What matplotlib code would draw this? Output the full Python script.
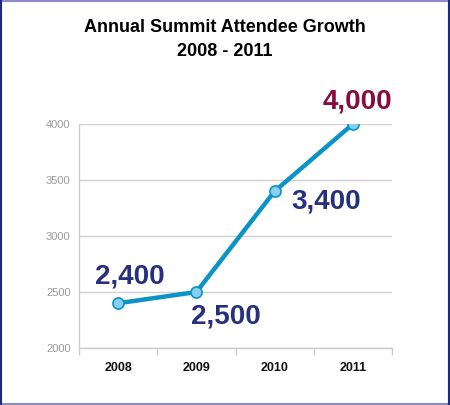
import matplotlib.pyplot as plt
from matplotlib.patches import Rectangle

# data
years = ["2008", "2009", "2010", "2011"]
attendees = [2400, 2500, 3400, 4000]
value_labels = ["2,400", "2,500", "3,400", "4,000"]
label_colors = ["#27307f", "#27307f", "#27307f", "#8a0a3c"]
label_offsets = [(12, 27), (29, -24), (51, -10), (5, 23)]  # pixels from the point
y_ticks = [2000, 2500, 3000, 3500, 4000]

plt.rcParams['font.family'] = ['Liberation Sans', 'DejaVu Sans']

fig = plt.figure(figsize=(4.5, 4.05), dpi=100)
fig.patch.set_facecolor("white")

# frame around the whole picture
fig.patches.append(Rectangle((0.002, 0.002), 0.996, 0.996, transform=fig.transFigure,
                             fill=False, edgecolor="#8c8cc4", linewidth=1.5))
for x in (0.002, 0.998):
    fig.add_artist(plt.Line2D([x, x], [0.002, 0.998], transform=fig.transFigure,
                              color="#1f2a7f", linewidth=1.5))

ax = fig.add_axes([0.1756, 0.1407, 0.6956, 0.5531])
xs = list(range(len(years)))

ax.plot(xs, attendees, color="#0a93c6", linewidth=3.2, zorder=3,
        marker="o", markersize=8, markerfacecolor="#86d0f2",
        markeredgecolor="#0a93c6", markeredgewidth=1.2)

for x, y, txt, col, off in zip(xs, attendees, value_labels, label_colors, label_offsets):
    ax.annotate(txt, (x, y), xytext=off, textcoords="offset pixels",
                ha="center", va="center", fontsize=20, fontweight="bold",
                color=col, zorder=4)

ax.set_xlim(-0.5, len(years) - 0.5)
ax.set_ylim(2000, 4000)
ax.set_yticks(y_ticks)
ax.set_yticklabels([str(v) for v in y_ticks], color="#9a9a9a", fontsize=8)
ax.tick_params(axis="y", length=0, pad=6)

ax.set_xticks([i - 0.5 for i in range(len(years) + 1)])
ax.set_xticklabels([])
ax.set_xticks(xs, minor=True)
ax.set_xticklabels(years, minor=True, fontsize=9, fontweight="bold", color="#111111")
ax.tick_params(axis="x", which="major", length=5, color="#cccccc", width=1)
ax.tick_params(axis="x", which="minor", length=0, pad=10)

ax.grid(axis="y", color="#d0d0d0", linewidth=1)
ax.set_axisbelow(True)
for side in ("top", "right"):
    ax.spines[side].set_visible(False)
for side in ("left", "bottom"):
    ax.spines[side].set_color("#cccccc")
    ax.spines[side].set_linewidth(1)

fig.text(0.5, 0.931, "Annual Summit Attendee Growth", ha="center", va="center",
         fontsize=13, fontweight="bold", color="black")
fig.text(0.5, 0.874, "2008 - 2011", ha="center", va="center",
         fontsize=13, fontweight="bold", color="black")

fig.savefig("out.png", dpi=100)
